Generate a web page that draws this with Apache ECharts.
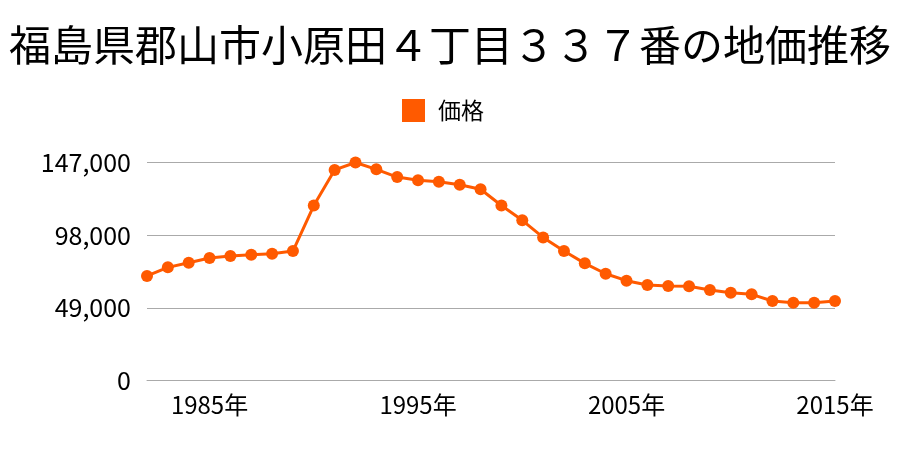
<!DOCTYPE html>
<html><head><meta charset="utf-8">
<script src="https://cdn.jsdelivr.net/npm/echarts@6/dist/echarts.min.js"></script>
<style>html,body{margin:0;padding:0;background:#fff}#c{width:900px;height:450px}</style>
</head><body><div id="c"></div>
<script>
const titleText = '福島県郡山市小原田４丁目３３７番の地価推移';
const seriesName = '価格';
const years = ['1982','1983','1984','1985','1986','1987','1988','1989','1990','1991','1992','1993','1994','1995','1996','1997','1998','1999','2000','2001','2002','2003','2004','2005','2006','2007','2008','2009','2010','2011','2012','2013','2014','2015'];
const prices = [70500,76300,79400,82600,84000,84800,85500,87300,118000,142000,147000,142400,137200,135000,134000,132000,129000,118000,108000,96500,87300,79000,72000,67300,64400,63700,63500,61000,59200,58100,53600,52500,52500,53600];
const yMax = 147000, yStep = 49000;
const FONT = '"Noto Sans CJK JP", "Noto Sans", sans-serif';
const chart = echarts.init(document.getElementById('c'));
chart.setOption({
  animation:false,
  title:{text:titleText,left:'center',top:19,textStyle:{fontFamily:FONT,fontSize:42,fontWeight:'normal',color:'#000'}},
  legend:{data:[seriesName],top:94,left:397,itemWidth:23,itemHeight:23,icon:'rect',itemGap:10,
    textStyle:{fontFamily:FONT,fontSize:23,color:'#000',padding:[0,0,0,8]}},
  grid:{left:147,right:65,top:162.5,bottom:69.5,containLabel:false},
  xAxis:{type:'category',data:years,boundaryGap:false,
    axisLine:{lineStyle:{color:'#aaa'}},axisTick:{show:false},
    axisLabel:{fontFamily:FONT,fontSize:24,color:'#000',margin:12,
      interval:(i,v)=>(+v)%10===5,formatter:v=>v+'年'},
    splitLine:{show:false}},
  yAxis:{type:'value',min:0,max:yMax,interval:yStep,
    axisLine:{show:false},axisTick:{show:false},
    axisLabel:{fontFamily:FONT,fontSize:25,color:'#000',margin:16,
      formatter:v=>v.toLocaleString('en-US')},
    splitLine:{lineStyle:{color:'#aaa',width:1}}},
  series:[{name:seriesName,type:'line',data:prices,symbol:'circle',symbolSize:12,
    itemStyle:{color:'#ff5a00'},lineStyle:{color:'#ff5a00',width:3}}]
});
</script></body></html>
